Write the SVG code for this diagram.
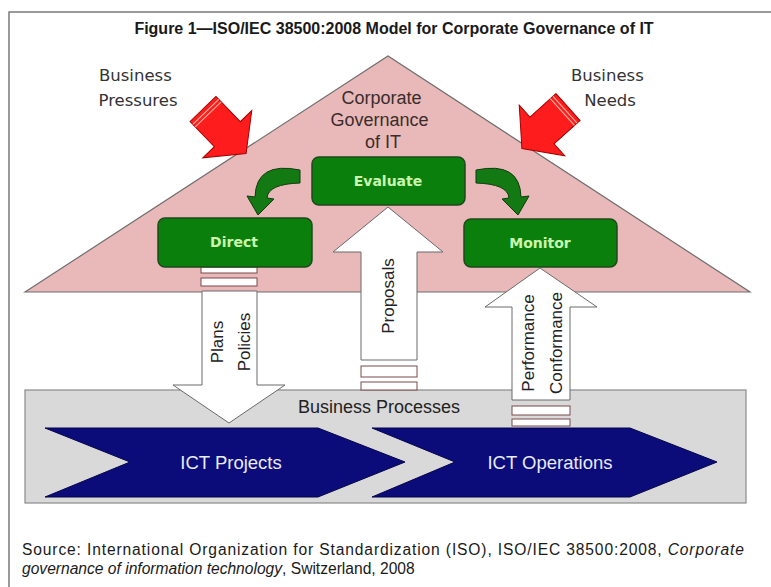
<svg xmlns="http://www.w3.org/2000/svg" width="771" height="587" viewBox="0 0 771 587">
  <style>
    .lbl { font-family: "DejaVu Sans", Verdana, sans-serif; font-size: 16.5px; fill: #333333; }
    .arial { font-family: "Liberation Sans", Arial, sans-serif; }
    .box { fill: #0b7f0b; stroke: #1d4a1d; stroke-width: 1.5; }
    .boxtxt { font-family: "DejaVu Sans", Verdana, sans-serif; font-size: 14px; font-weight: bold; fill: #c9f7b0; text-anchor: middle; }
    .white { fill: #ffffff; stroke: #6a6a6a; stroke-width: 1; }
    .stripe { fill: #ffffff; stroke: #7a4b4b; stroke-width: 1; }
    .vert { font-family: "Liberation Sans", Arial, sans-serif; font-size: 17px; fill: #222222; text-anchor: middle; }
    .red { fill: #ff1c1c; stroke: #a00000; stroke-width: 1; }
    .redline { stroke: #ffb0a0; stroke-width: 1.2; fill: none; }
    .curve { fill: #137a13; stroke: #0d3a0d; stroke-width: 1; }
    .chev { fill: #0b0b7a; stroke: #05054a; stroke-width: 1; }
    .chevtxt { font-family: "Liberation Sans", Arial, sans-serif; font-size: 18.5px; fill: #e8ecff; text-anchor: middle; }
  </style>

  <rect width="771" height="587" fill="#ffffff"/>
  <!-- outer figure frame -->
  <rect x="9" y="12" width="790" height="600" fill="none" stroke="#7a7a7a" stroke-width="1.5"/>

  <text x="394" y="34" text-anchor="middle" class="arial" font-size="16" font-weight="bold" fill="#1a1a1a">Figure 1—ISO/IEC 38500:2008 Model for Corporate Governance of IT</text>

  <!-- governance roof -->
  <g id="governance">
    <polygon points="25,292 388,56 750,292" fill="#e8b9b8" stroke="#6e6e6e" stroke-width="1.2"/>
    <text class="arial" font-size="18" fill="#3a2c2c" text-anchor="middle">
      <tspan x="384" y="104">Corporate</tspan>
      <tspan x="382" y="126">Governance</tspan>
      <tspan x="383" y="148">of IT</tspan>
    </text>
  </g>

  <!-- business processes band -->
  <g id="business-processes">
    <rect x="25" y="390" width="721" height="113" fill="#d9d9d9" stroke="#8a8a8a" stroke-width="1.2"/>
    <text x="379" y="413" class="arial" font-size="18" fill="#222222" text-anchor="middle">Business Processes</text>
  </g>

  <g id="ict-projects">
    <polygon class="chev" points="45,428 318,428 405,462 318,497 45,497 130,462"/>
    <text x="231" y="469" class="chevtxt">ICT Projects</text>
  </g>
  <g id="ict-operations">
    <polygon class="chev" points="372,428 630,428 717,462 630,497 372,497 455,462"/>
    <text x="550" y="469" class="chevtxt">ICT Operations</text>
  </g>

  <!-- external pressure arrows -->
  <g id="business-pressures">
    <g transform="translate(203,109) rotate(-44)">
      <polygon class="red" points="-18,0 18,0 18,35 34,35 0,62 -34,35 -18,35"/>
      <line class="redline" x1="-18" y1="4" x2="18" y2="4"/>
      <line class="redline" x1="-18" y1="7.5" x2="18" y2="7.5"/>
    </g>
    <text class="lbl" text-anchor="middle">
      <tspan x="138" y="81">Business</tspan>
      <tspan x="138" y="106">Pressures</tspan>
    </text>
  </g>
  <g id="business-needs">
    <g transform="translate(568,107) rotate(48)">
      <polygon class="red" points="-18,0 18,0 18,35 34,35 0,62 -34,35 -18,35"/>
      <line class="redline" x1="-18" y1="4" x2="18" y2="4"/>
      <line class="redline" x1="-18" y1="7.5" x2="18" y2="7.5"/>
    </g>
    <text class="lbl" text-anchor="middle">
      <tspan x="610" y="81">Business</tspan>
      <tspan x="610" y="106">Needs</tspan>
    </text>
  </g>

  <!-- flows between governance and management -->
  <g id="connectors">
    <g id="plans-policies">
      <rect class="stripe" x="201" y="267" width="56" height="6"/>
      <rect class="stripe" x="201" y="278" width="56" height="8"/>
      <polygon class="white" points="202,291 257,291 257,385 285,385 229,423 173,385 202,385"/>
      <text class="vert" transform="translate(217,342) rotate(-90)" y="6">Plans</text>
      <text class="vert" transform="translate(244,342) rotate(-90)" y="6">Policies</text>
    </g>
    <g id="proposals">
      <rect class="stripe" x="361" y="366" width="56" height="11"/>
      <rect class="stripe" x="361" y="382" width="56" height="8"/>
      <polygon class="white" points="361,360 361,252 333,252 388,207 443,252 417,252 417,360"/>
      <text class="vert" transform="translate(388,296) rotate(-90)" y="6">Proposals</text>
    </g>
    <g id="performance-conformance">
      <rect class="stripe" x="512" y="406" width="58" height="9"/>
      <rect class="stripe" x="512" y="419" width="58" height="7"/>
      <polygon class="white" points="512,400 512,307 485,307 540,268 597,307 570,307 570,400"/>
      <text class="vert" transform="translate(528,343) rotate(-90)" y="6">Performance</text>
      <text class="vert" transform="translate(556,343) rotate(-90)" y="6">Conformance</text>
    </g>
    <!-- cycle arrows: Evaluate -> Direct, Monitor -> Evaluate -->
    <path id="cycle-direct" class="curve" d="M300,170 Q256,161 255,197 L247,196 L258,215 L274,199 L267,198 Q268,184 300,183 Z"/>
    <path id="cycle-monitor" class="curve" transform="translate(776,0) scale(-1,1)" d="M300,170 Q256,161 255,197 L247,196 L258,215 L274,199 L267,198 Q268,184 300,183 Z"/>
  </g>

  <g id="evaluate">
    <rect class="box" x="312" y="157" width="153" height="48" rx="7"/>
    <text x="388" y="186" class="boxtxt">Evaluate</text>
  </g>
  <g id="direct">
    <rect class="box" x="158" y="218" width="154" height="49" rx="7"/>
    <text x="234" y="247" class="boxtxt">Direct</text>
  </g>
  <g id="monitor">
    <rect class="box" x="464" y="219" width="153" height="48" rx="7"/>
    <text x="540" y="248" class="boxtxt">Monitor</text>
  </g>

  <g id="source" class="arial" font-size="15.6" fill="#1a1a1a">
    <text x="22" y="555" textLength="722" lengthAdjust="spacing">Source:  International Organization for Standardization (ISO), ISO/IEC 38500:2008, <tspan font-style="italic">Corporate</tspan></text>
    <text x="22" y="574"><tspan font-style="italic">governance of information technology</tspan>, Switzerland, 2008</text>
  </g>
</svg>
